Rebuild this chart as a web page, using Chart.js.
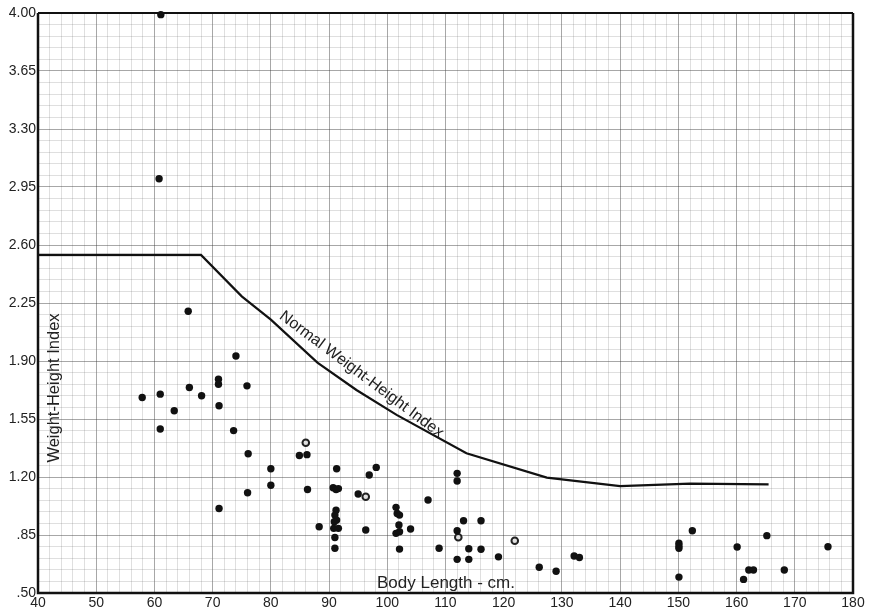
<!DOCTYPE html>
<html>
<head>
<meta charset="utf-8">
<script src="https://cdn.jsdelivr.net/npm/chart.js@4.4.1/dist/chart.umd.min.js"></script>
<style>
  html, body { margin: 0; padding: 0; background: #fff; }
  #wrap { width: 876px; height: 615px; position: relative; }
</style>
</head>
<body>
<div id="wrap"><canvas id="c" width="876" height="615"></canvas></div>
<script>
// ---------- data ----------
const xTickLabels = ["40","50","60","70","80","90","100","110","120","130","140","150","160","170","180"];
const yTickLabels = [".50",".85","1.20","1.55","1.90","2.25","2.60","2.95","3.30","3.65","4.00"];

const normalX = [40, 68, 75, 80, 88, 94.7, 101.6, 113.6, 127.4, 140, 152, 165.5];
const normalY = [2.54, 2.54, 2.29, 2.15, 1.89, 1.725, 1.575, 1.343, 1.196, 1.145, 1.16, 1.155];

const filledX = [61.1, 60.8, 65.8, 57.9, 61.0, 61.0, 63.4, 66.0, 68.1, 71.0, 71.0, 71.1, 74.0, 75.9, 73.6, 76.1, 76.0, 71.1, 80.0, 80.0,
  84.9, 86.2, 86.3, 88.3, 91.3, 90.7, 91.2, 91.6, 91.2, 91.0, 91.3, 90.9, 90.8, 91.6, 91.0, 91.0, 95.0, 96.9, 98.1, 96.3,
  101.5, 101.7, 102.1, 102.0, 101.5, 102.1, 102.1, 104.0, 107.0, 108.9, 112.0, 112.0, 112.0, 112.0, 113.1, 114.0, 114.0, 116.1, 116.1, 119.1,
  126.1, 129.0, 132.1, 133.0, 150.1, 150.1, 150.1, 150.1, 152.4, 160.1, 161.2, 162.1, 162.9, 165.2, 168.2, 175.7];
const filledY = [3.99, 3.00, 2.20, 1.68, 1.70, 1.49, 1.60, 1.74, 1.69, 1.79, 1.76, 1.63, 1.93, 1.75, 1.48, 1.34, 1.105, 1.01, 1.25, 1.15,
  1.33, 1.335, 1.125, 0.90, 1.25, 1.135, 1.125, 1.13, 1.00, 0.97, 0.94, 0.93, 0.89, 0.89, 0.835, 0.77, 1.097, 1.212, 1.258, 0.88,
  1.017, 0.98, 0.97, 0.91, 0.86, 0.87, 0.765, 0.886, 1.061, 0.77, 1.222, 1.176, 0.876, 0.703, 0.936, 0.767, 0.703, 0.936, 0.764, 0.718,
  0.655, 0.631, 0.723, 0.714, 0.80, 0.784, 0.77, 0.596, 0.876, 0.778, 0.582, 0.639, 0.639, 0.846, 0.639, 0.779];

const openX = [86.0, 96.3, 112.2, 121.9];
const openY = [1.407, 1.081, 0.836, 0.815];

const lineLabel = "Normal Weight-Height Index";
const xTitle = "Body Length - cm.";
const yTitle = "Weight-Height Index";

// ---------- build ----------
const toPts = (xs, ys) => xs.map((x, i) => ({ x: x, y: ys[i] }));
const FONT = "'Liberation Sans', 'DejaVu Sans', sans-serif";
const MAJOR = "rgba(60,60,60,0.45)";
const MINOR = "rgba(110,110,110,0.22)";

const xMin = Number(xTickLabels[0]), xMax = Number(xTickLabels[xTickLabels.length - 1]);
const yMin = Number(yTickLabels[0]), yMax = Number(yTickLabels[yTickLabels.length - 1]);

const framePlugin = {
  id: 'frame',
  beforeDatasetsDraw(chart) {
    const { ctx, chartArea: a } = chart;
    ctx.save();
    ctx.strokeStyle = '#111';
    ctx.lineWidth = 2;
    ctx.beginPath();
    ctx.moveTo(a.left, a.top); ctx.lineTo(a.right, a.top);
    ctx.stroke();
    ctx.lineWidth = 2.5;
    ctx.beginPath();
    ctx.moveTo(a.left, a.top); ctx.lineTo(a.left, a.bottom); ctx.lineTo(a.right, a.bottom); ctx.lineTo(a.right, a.top);
    ctx.stroke();
    ctx.restore();
  },
  afterDatasetsDraw(chart) {
    const { ctx, chartArea: a, scales } = chart;
    const xs = scales.x, ys = scales.y;
    ctx.save();
    ctx.fillStyle = '#222';
    // line label along the normal curve
    const p1x = xs.getPixelForValue(normalX[4]), p1y = ys.getPixelForValue(normalY[4]);
    const p2x = xs.getPixelForValue(normalX[6]), p2y = ys.getPixelForValue(normalY[6]);
    const ang = Math.atan2(p2y - p1y, p2x - p1x) + 0.06;
    const mx = (p1x + p2x) / 2 - 4, my = (p1y + p2y) / 2 - 3;
    ctx.translate(mx + Math.sin(ang) * 6, my - Math.cos(ang) * 6);
    ctx.rotate(ang);
    ctx.font = "16px " + FONT;
    ctx.textAlign = 'center';
    ctx.textBaseline = 'bottom';
    ctx.fillText(lineLabel, 0, 0);
    ctx.restore();

    // x title inside plot
    ctx.save();
    ctx.fillStyle = '#222';
    ctx.font = "17px " + FONT;
    ctx.textAlign = 'center';
    ctx.textBaseline = 'alphabetic';
    ctx.fillText(xTitle, a.left + 408, a.bottom - 5);
    ctx.restore();

    // y title inside plot (rotated)
    ctx.save();
    ctx.fillStyle = '#222';
    ctx.font = "16.5px " + FONT;
    ctx.translate(a.left + 16, a.top + 375);
    ctx.rotate(-Math.PI / 2);
    ctx.textAlign = 'center';
    ctx.textBaseline = 'middle';
    ctx.fillText(yTitle, 0, 0);
    ctx.restore();
  }
};

new Chart(document.getElementById('c'), {
  type: 'scatter',
  data: {
    datasets: [
      {
        type: 'line',
        label: lineLabel,
        data: toPts(normalX, normalY),
        borderColor: '#111',
        borderWidth: 2.2,
        pointRadius: 0,
        tension: 0,
        fill: false,
        clip: false
      },
      {
        label: 'filled',
        data: toPts(filledX, filledY),
        pointRadius: 3.7,
        pointBackgroundColor: '#111',
        pointBorderColor: '#111',
        pointBorderWidth: 0,
        clip: false
      },
      {
        label: 'open',
        data: toPts(openX, openY),
        pointRadius: 3.3,
        pointBackgroundColor: '#e0e0e0',
        pointBorderColor: '#222',
        pointBorderWidth: 2,
        clip: false
      }
    ]
  },
  options: {
    responsive: false,
    animation: false,
    devicePixelRatio: 1,
    layout: { padding: { top: 13, right: 23, left: 0, bottom: 0 } },
    plugins: { legend: { display: false }, tooltip: { enabled: false } },
    scales: {
      x: {
        type: 'linear',
        min: xMin, max: xMax,
        afterBuildTicks(scale) {
          const t = [];
          for (let v = xMin; v <= xMax + 1e-9; v += 2) t.push({ value: Math.round(v * 100) / 100 });
          scale.ticks = t;
        },
        afterFit(scale) { scale.height = 22; },
        ticks: {
          autoSkip: false,
          maxRotation: 0,
          padding: 2,
          color: '#222',
          font: { family: FONT, size: 14 },
          callback(value, index) { return index % 5 === 0 ? xTickLabels[index / 5] : ''; }
        },
        grid: {
          drawTicks: false,
          tickLength: 0,
          lineWidth: 1,
          color: (c) => (c.index % 5 === 0 ? MAJOR : MINOR)
        },
        border: { display: false }
      },
      y: {
        type: 'linear',
        min: yMin, max: yMax,
        afterBuildTicks(scale) {
          const t = [];
          for (let i = 0; i <= 50; i++) t.push({ value: Math.round((yMin + i * 0.07) * 1000) / 1000 });
          scale.ticks = t;
        },
        afterFit(scale) { scale.width = 38; },
        ticks: {
          autoSkip: false,
          padding: 2,
          color: '#222',
          font: { family: FONT, size: 14 },
          callback(value, index) { return index % 5 === 0 ? yTickLabels[index / 5] : ''; }
        },
        grid: {
          drawTicks: false,
          tickLength: 0,
          lineWidth: 1,
          color: (c) => (c.index % 5 === 0 ? MAJOR : MINOR)
        },
        border: { display: false }
      }
    }
  },
  plugins: [framePlugin]
});
</script>
</body>
</html>
